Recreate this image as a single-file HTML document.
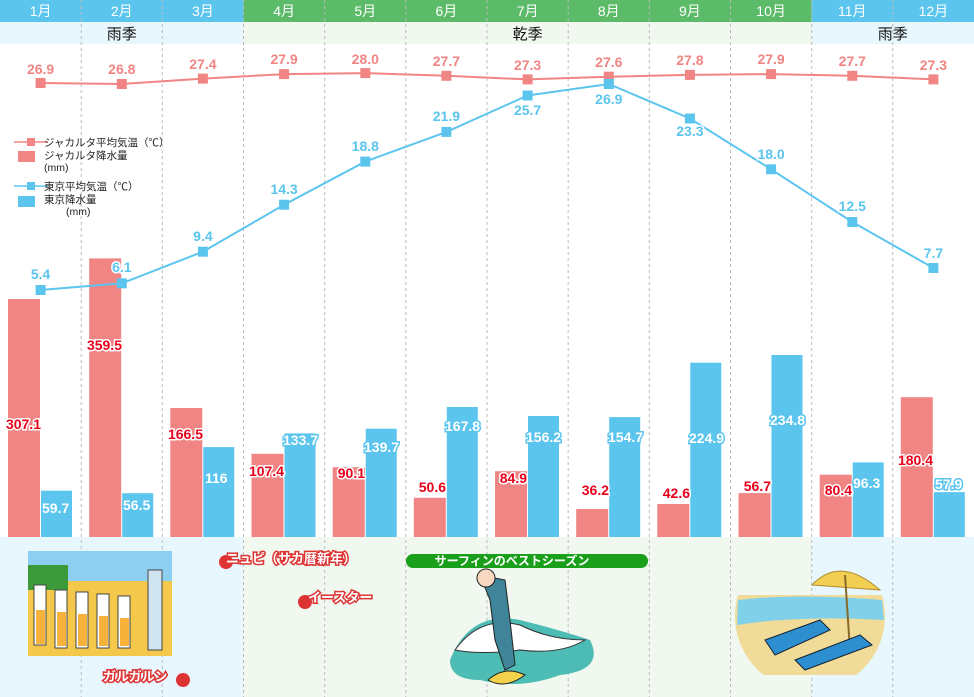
<!DOCTYPE html>
<html><head><meta charset="utf-8"><style>
body{margin:0;background:#fff;}
svg{display:block;font-family:"Liberation Sans","Noto Sans CJK JP",sans-serif;}
.rl{fill:#e8001a;font-weight:bold;font-size:14px;stroke:#fff;stroke-width:3px;paint-order:stroke;text-anchor:end}
.bl{fill:#fff;font-weight:bold;font-size:14px;stroke:#5bc5ee;stroke-width:3px;paint-order:stroke;text-anchor:start}
.jt{fill:#f08583;font-weight:bold;font-size:14px;text-anchor:middle}
.tt{fill:#5bc5ee;font-weight:bold;font-size:14px;text-anchor:middle;stroke:#fff;stroke-width:3px;paint-order:stroke}
.hd{fill:#fff;font-size:14px;text-anchor:middle}
.ev{fill:#fff;font-weight:bold;font-size:13px;stroke:#d33;stroke-width:3px;paint-order:stroke}
</style></head><body>
<svg width="974" height="697" viewBox="0 0 974 697" xmlns="http://www.w3.org/2000/svg">
<rect x="0" y="0" width="243.5" height="22" fill="#5bc5ee"/>
<rect x="243.5" y="0" width="568.2" height="22" fill="#5cbb68"/>
<rect x="811.7" y="0" width="162.3" height="22" fill="#5bc5ee"/>
<rect x="0" y="22" width="243.5" height="22" fill="#e8f7fd"/>
<rect x="243.5" y="22" width="568.2" height="22" fill="#f1f8f0"/>
<rect x="811.7" y="22" width="162.3" height="22" fill="#e8f7fd"/>
<rect x="0" y="537" width="243.5" height="160" fill="#e8f7fd"/>
<rect x="243.5" y="537" width="568.2" height="160" fill="#f1f8f0"/>
<rect x="811.7" y="537" width="162.3" height="160" fill="#e8f7fd"/>
<g class="hd">
<text x="40.6" y="16">1月</text><text x="121.8" y="16">2月</text><text x="202.9" y="16">3月</text>
<text x="284.1" y="16">4月</text><text x="365.3" y="16">5月</text><text x="446.4" y="16">6月</text>
<text x="527.6" y="16">7月</text><text x="608.8" y="16">8月</text><text x="689.9" y="16">9月</text>
<text x="771.1" y="16">10月</text><text x="852.3" y="16">11月</text><text x="933.4" y="16">12月</text>
</g>
<g font-size="15" fill="#111" text-anchor="middle">
<text x="121.8" y="39">雨季</text><text x="527.6" y="39">乾季</text><text x="892.8" y="39">雨季</text>
</g>
<g stroke="#bbb" stroke-dasharray="3,3" stroke-width="1">
<line x1="81.2" y1="0" x2="81.2" y2="697"/><line x1="162.3" y1="0" x2="162.3" y2="697"/>
<line x1="243.5" y1="0" x2="243.5" y2="697"/><line x1="324.7" y1="0" x2="324.7" y2="697"/>
<line x1="405.8" y1="0" x2="405.8" y2="697"/><line x1="487" y1="0" x2="487" y2="697"/>
<line x1="568.2" y1="0" x2="568.2" y2="697"/><line x1="649.3" y1="0" x2="649.3" y2="697"/>
<line x1="730.5" y1="0" x2="730.5" y2="697"/><line x1="811.7" y1="0" x2="811.7" y2="697"/>
<line x1="892.8" y1="0" x2="892.8" y2="697"/>
</g>
<g fill="#f08583">
<rect x="8" y="299" width="32" height="238"/><rect x="89.2" y="258.4" width="32" height="278.6"/>
<rect x="170.3" y="408" width="32" height="129"/><rect x="251.5" y="453.8" width="32" height="83.2"/>
<rect x="332.7" y="467.2" width="32" height="69.8"/><rect x="413.8" y="497.8" width="32" height="39.2"/>
<rect x="495" y="471.2" width="32" height="65.8"/><rect x="576.2" y="509" width="32" height="28"/>
<rect x="657.3" y="504" width="32" height="33"/><rect x="738.5" y="493.1" width="32" height="43.9"/>
<rect x="819.7" y="474.7" width="32" height="62.3"/><rect x="900.8" y="397.2" width="32" height="139.8"/>
</g>
<g fill="#5bc5ee">
<rect x="41" y="490.7" width="31" height="46.3"/><rect x="122.2" y="493.2" width="31" height="43.8"/>
<rect x="203.3" y="447.1" width="31" height="89.9"/><rect x="284.5" y="433.4" width="31" height="103.6"/>
<rect x="365.7" y="428.7" width="31" height="108.3"/><rect x="446.8" y="407" width="31" height="130"/>
<rect x="528" y="416" width="31" height="121"/><rect x="609.2" y="417.1" width="31" height="119.9"/>
<rect x="690.3" y="362.7" width="31" height="174.3"/><rect x="771.5" y="355" width="31" height="182"/>
<rect x="852.7" y="462.4" width="31" height="74.6"/><rect x="933.8" y="492.1" width="31" height="44.9"/>
</g>
<polyline fill="none" stroke="#f08583" stroke-width="2" points="40.6,83 121.8,84 202.9,78.6 284.1,74.1 365.3,73.1 446.4,75.8 527.6,79.4 608.8,76.7 689.9,74.9 771.1,74.1 852.3,75.8 933.4,79.4"/>
<g fill="#f08583">
<rect x="35.6" y="78" width="10" height="10"/><rect x="116.8" y="79" width="10" height="10"/><rect x="197.9" y="73.6" width="10" height="10"/><rect x="279.1" y="69.1" width="10" height="10"/><rect x="360.3" y="68.1" width="10" height="10"/><rect x="441.4" y="70.8" width="10" height="10"/><rect x="522.6" y="74.4" width="10" height="10"/><rect x="603.8" y="71.7" width="10" height="10"/><rect x="684.9" y="69.9" width="10" height="10"/><rect x="766.1" y="69.1" width="10" height="10"/><rect x="847.3" y="70.8" width="10" height="10"/><rect x="928.4" y="74.4" width="10" height="10"/>
</g>
<polyline fill="none" stroke="#5bc5ee" stroke-width="2" points="40.6,290 121.8,283.3 202.9,251.7 284.1,204.7 365.3,161.6 446.4,131.9 527.6,95.5 608.8,84 689.9,118.5 771.1,169.3 852.3,222 933.4,268"/>
<g fill="#5bc5ee">
<rect x="35.6" y="285" width="10" height="10"/><rect x="116.8" y="278.3" width="10" height="10"/><rect x="197.9" y="246.7" width="10" height="10"/><rect x="279.1" y="199.7" width="10" height="10"/><rect x="360.3" y="156.6" width="10" height="10"/><rect x="441.4" y="126.9" width="10" height="10"/><rect x="522.6" y="90.5" width="10" height="10"/><rect x="603.8" y="79" width="10" height="10"/><rect x="684.9" y="113.5" width="10" height="10"/><rect x="766.1" y="164.3" width="10" height="10"/><rect x="847.3" y="217" width="10" height="10"/><rect x="928.4" y="263" width="10" height="10"/>
</g>
<g class="jt">
<text x="40.6" y="74">26.9</text><text x="121.8" y="74">26.8</text><text x="202.9" y="69">27.4</text><text x="284.1" y="64">27.9</text><text x="365.3" y="64">28.0</text><text x="446.4" y="66">27.7</text><text x="527.6" y="70">27.3</text><text x="608.8" y="67">27.6</text><text x="689.9" y="65">27.8</text><text x="771.1" y="64">27.9</text><text x="852.3" y="66">27.7</text><text x="933.4" y="70">27.3</text>
</g>
<g class="tt">
<text x="40.6" y="279">5.4</text><text x="121.8" y="272">6.1</text><text x="202.9" y="241">9.4</text><text x="284.1" y="194">14.3</text><text x="365.3" y="151">18.8</text><text x="446.4" y="121">21.9</text><text x="527.6" y="115">25.7</text><text x="608.8" y="104">26.9</text><text x="689.9" y="136">23.3</text><text x="771.1" y="159">18.0</text><text x="852.3" y="211">12.5</text><text x="933.4" y="258">7.7</text>
</g>
<g class="rl">
<text x="41" y="429">307.1</text><text x="122" y="350">359.5</text><text x="203" y="439">166.5</text><text x="284" y="476">107.4</text><text x="365" y="478">90.1</text><text x="446" y="492">50.6</text><text x="527" y="483">84.9</text><text x="609" y="495">36.2</text><text x="690" y="498">42.6</text><text x="771" y="491">56.7</text><text x="852" y="495">80.4</text><text x="933" y="465">180.4</text>
</g>
<g class="bl">
<text x="42" y="513">59.7</text><text x="123" y="510">56.5</text><text x="205" y="483">116</text><text x="283" y="445">133.7</text><text x="364" y="452">139.7</text><text x="445" y="431">167.8</text><text x="526" y="442">156.2</text><text x="608" y="442">154.7</text><text x="689" y="443">224.9</text><text x="770" y="425">234.8</text><text x="853" y="488">96.3</text><text x="935" y="489">57.9</text>
</g>
<line x1="14" y1="142" x2="48" y2="142" stroke="#f08583" stroke-width="1.5"/><rect x="27" y="138" width="8" height="8" fill="#f08583"/>
<rect x="18" y="151" width="17" height="11" fill="#f08583"/>
<line x1="14" y1="186" x2="48" y2="186" stroke="#5bc5ee" stroke-width="1.5"/><rect x="27" y="182" width="8" height="8" fill="#5bc5ee"/>
<rect x="18" y="196" width="17" height="11" fill="#5bc5ee"/>
<g font-size="10.5" fill="#222">
<text x="44" y="146">ジャカルタ平均気温（℃）</text>
<text x="44" y="159">ジャカルタ降水量</text><text x="44" y="171">(mm)</text>
<text x="44" y="190">東京平均気温（℃）</text>
<text x="44" y="203">東京降水量</text><text x="66" y="215">(mm)</text>
</g>
<rect x="28" y="551" width="144" height="105" fill="#f4c84a"/>
<rect x="28" y="551" width="144" height="30" fill="#8ccff0"/>
<rect x="28" y="565" width="40" height="25" fill="#3c9a3a"/>
<g fill="#fff" stroke="#444" stroke-width="1">
<rect x="34" y="585" width="12" height="60"/><rect x="55" y="590" width="12" height="58"/><rect x="76" y="592" width="12" height="56"/><rect x="97" y="594" width="12" height="54"/><rect x="118" y="596" width="12" height="52"/><rect x="148" y="570" width="14" height="80" fill="#cfe3f0"/>
</g>
<g fill="#f6b23a"><rect x="36" y="610" width="9" height="34"/><rect x="57" y="612" width="9" height="34"/><rect x="78" y="614" width="9" height="32"/><rect x="99" y="616" width="9" height="30"/><rect x="120" y="618" width="9" height="28"/></g>
<circle cx="226" cy="562" r="7" fill="#d33"/>
<text class="ev" x="226" y="563">ニュピ（サカ暦新年）</text>
<circle cx="305" cy="602" r="7" fill="#d33"/>
<text class="ev" x="308" y="602">イースター</text>
<circle cx="183" cy="680" r="7" fill="#d33"/>
<text class="ev" x="103" y="681">ガルガルン</text>
<rect x="406" y="554" width="242" height="14" rx="7" fill="#1a9f1a"/>
<text x="512" y="565" font-size="12" font-weight="bold" fill="#fff" text-anchor="middle">サーフィンのベストシーズン</text>
<path d="M450 660 Q470 610 520 620 Q560 630 590 640 Q605 670 560 675 Q520 690 480 680 Q450 680 450 660Z" fill="#4cbcb4"/>
<path d="M455 650 Q480 615 520 625 Q550 640 585 640 Q560 655 520 650 Q480 655 455 650Z" fill="#fff" stroke="#333" stroke-width="1"/>
<path d="M480 575 L490 600 L495 640 L505 670 L515 665 L510 620 L505 580 Z" fill="#3f8499" stroke="#222"/>
<circle cx="486" cy="578" r="9" fill="#f8d8c0" stroke="#222"/>
<path d="M488 680 Q505 665 525 675 Q505 690 488 680Z" fill="#f2d24a" stroke="#222"/>
<clipPath id="bc"><rect x="730" y="595" width="160" height="80"/></clipPath>
<circle cx="810" cy="616" r="75" fill="#f0dc98" clip-path="url(#bc)"/>
<path d="M738 600 Q800 593 882 600 L884 620 Q800 615 737 625Z" fill="#7fd0e8"/>
<path d="M812 585 Q840 555 880 590 Z" fill="#f2cf52" stroke="#b08a2a"/>
<line x1="845" y1="575" x2="850" y2="650" stroke="#8a6a2a" stroke-width="2"/>
<path d="M765 640 L820 620 L830 630 L775 655Z" fill="#2e8fd0" stroke="#123"/>
<path d="M795 660 L860 635 L872 645 L805 670Z" fill="#2e8fd0" stroke="#123"/>
</svg>
</body></html>
